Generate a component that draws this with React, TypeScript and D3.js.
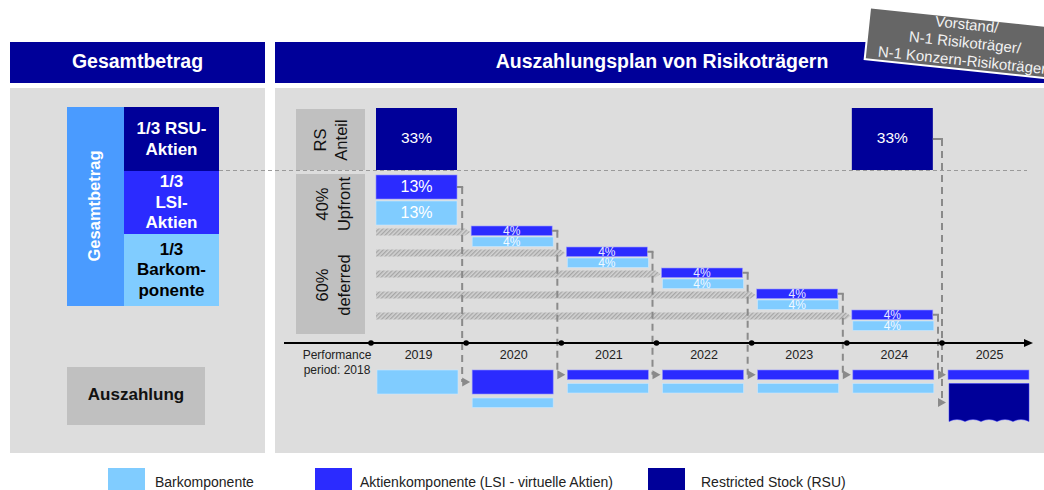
import React from 'react';
import * as d3 from 'd3';

const YEARS = [2019, 2020, 2021, 2022, 2023, 2024, 2025];
const RSU_GRANT_YEARS = [2019, 2024];
const RSU_GRANT_VALUES = [33, 33];
const UPFRONT_YEAR = 2019;
const UPFRONT_LSI = 13;
const UPFRONT_CASH = 13;
const DEFERRED_YEARS = [2020, 2021, 2022, 2023, 2024];
const DEFERRED_LSI = [4, 4, 4, 4, 4];
const DEFERRED_CASH = [4, 4, 4, 4, 4];
const PAYOUT_CASH_YEARS = [2019, 2020, 2021, 2022, 2023, 2024];
const PAYOUT_CASH = [13, 4, 4, 4, 4, 4];
const PAYOUT_LSI_YEARS = [2020, 2021, 2022, 2023, 2024, 2025];
const PAYOUT_LSI = [13, 4, 4, 4, 4, 4];
const PAYOUT_RSU_YEARS = [2025];
const PAYOUT_RSU = [33];
const LEGEND_LABELS = ['Barkomponente', 'Aktienkomponente (LSI - virtuelle Aktien)', 'Restricted Stock (RSU)'];
const SPLIT_LABELS = [['1/3 RSU-', 'Aktien'], ['1/3', 'LSI-', 'Aktien'], ['1/3', 'Barkom-', 'ponente']];
const BANNER_LINES = ['Vorstand/', 'N-1 Risikoträger/', 'N-1 Konzern-Risikoträger'];

const NAVY = '#000099';
const LSI = '#2B2BFF';
const CASH = '#80CCFF';
const GESAMT = '#4A9BFF';
const PANEL = '#DDDDDD';
const LABELBOX = '#C0C0C0';
const DASH = '#8A8A8A';
const FONT = '"Liberation Sans", Arial, sans-serif';

export default function App() {
  const x = d3.scaleLinear().domain([2019, 2025]).range([371, 942]);
  const colW = x(2020) - x(2019);
  const barW = 81;
  const barX = (y: number) => x(y) + 5;
  const h = d3.scaleLinear().domain([0, 4, 13, 33]).range([0, 9.5, 24, 62]);
  const rowY = d3.scalePoint<number>().domain(DEFERRED_YEARS).range([226, 310]);
  const rsuTop = 108;
  const upLsiTop = rsuTop + h(33) + 5;
  const upCashTop = upLsiTop + h(UPFRONT_LSI) + 2;

  // payout stacks
  const payoutTop = 370;
  const stacks: Record<number, { kind: string; v: number; y: number; hh: number }[]> = {};
  YEARS.forEach((yr) => {
    const items: { kind: string; v: number }[] = [];
    const li = PAYOUT_LSI_YEARS.indexOf(yr);
    if (li >= 0) items.push({ kind: 'lsi', v: PAYOUT_LSI[li] });
    const ci = PAYOUT_CASH_YEARS.indexOf(yr);
    if (ci >= 0) items.push({ kind: 'cash', v: PAYOUT_CASH[ci] });
    const ri = PAYOUT_RSU_YEARS.indexOf(yr);
    if (ri >= 0) items.push({ kind: 'rsu', v: PAYOUT_RSU[ri] });
    let y = payoutTop;
    stacks[yr] = items.map((it) => {
      const hh = it.kind === 'rsu' ? 38 : h(it.v);
      const o = { ...it, y, hh };
      y += hh + 4;
      return o;
    });
  });
  const colorOf = (k: string) => (k === 'lsi' ? LSI : k === 'cash' ? CASH : NAVY);

  // connectors
  const connectors: { sx: number; sy: number; target: number; kind: string; dx: number }[] = [];
  connectors.push({ sx: barX(UPFRONT_YEAR) + barW, sy: upLsiTop + h(UPFRONT_LSI) / 2, target: UPFRONT_YEAR + 1, kind: 'lsi', dx: -4 });
  DEFERRED_YEARS.forEach((yr) => {
    connectors.push({ sx: barX(yr) + barW, sy: (rowY(yr) as number) + h(4) / 2, target: yr + 1, kind: 'lsi', dx: -4 });
  });
  connectors.push({ sx: barX(2024) + barW, sy: rsuTop + h(33) / 2, target: 2025, kind: 'rsu', dx: 0 });

  const wavePath = (x0: number, y0: number, w: number, hh: number) => {
    const n = 5;
    const seg = w / n;
    let d = `M${x0},${y0} H${x0 + w} V${y0 + hh}`;
    for (let i = 0; i < n; i++) {
      const xa = x0 + w - i * seg;
      d += ` Q${xa - seg / 2},${y0 + hh - 4} ${xa - seg},${y0 + hh}`;
    }
    d += ' Z';
    return d;
  };

  const bannerRot = 6;

  return (
    <svg width={1044} height={490} style={{ position: 'absolute', left: 0, top: 0, background: '#fff' }} fontFamily={FONT}>
      <defs>
        <pattern id="hatch" width="3" height="3" patternUnits="userSpaceOnUse" patternTransform="rotate(45)">
          <rect width="3" height="3" fill="#D2D2D2" />
          <rect width="1.3" height="3" fill="#A6A6A6" />
        </pattern>
      </defs>
      {/* Headers */}
      <rect x={10} y={42} width={255} height={41} fill={NAVY} />
      <text x={137.5} y={63} fill="#fff" fontWeight="bold" fontSize={19.5} textAnchor="middle" dominantBaseline="middle">Gesamtbetrag</text>
      <rect x={275} y={42} width={769} height={41} fill={NAVY} />
      <text x={662} y={63} fill="#fff" fontWeight="bold" fontSize={19.5} textAnchor="middle" dominantBaseline="middle">Auszahlungsplan von Risikoträgern</text>

      {/* Panels */}
      <rect x={10} y={88} width={255} height={365} fill={PANEL} />
      <rect x={275} y={88} width={769} height={365} fill={PANEL} />

      {/* Left stack */}
      <rect x={67} y={107} width={57} height={199} fill={GESAMT} />
      <text transform="translate(96,206) rotate(-90)" fill="#fff" fontWeight="bold" fontSize={16.5} textAnchor="middle" dominantBaseline="middle">Gesamtbetrag</text>
      {[{ y: 107, hh: 64, c: NAVY, t: '#fff' }, { y: 171, hh: 63, c: LSI, t: '#fff' }, { y: 234, hh: 72, c: CASH, t: '#000' }].map((b, i) => (
        <g key={i}>
          <rect x={124} y={b.y} width={95} height={b.hh} fill={b.c} />
          {SPLIT_LABELS[i].map((ln, j, arr) => (
            <text key={j} x={171.5} y={b.y + b.hh / 2 + (j - (arr.length - 1) / 2) * 20.5 + 1} fill={b.t} fontWeight="bold" fontSize={17} textAnchor="middle" dominantBaseline="middle">{ln}</text>
          ))}
        </g>
      ))}
      <rect x={67} y={367} width={138} height={58} fill={LABELBOX} />
      <text x={136} y={396} fontWeight="bold" fontSize={17} textAnchor="middle" dominantBaseline="middle" fill="#111">Auszahlung</text>

      {/* dotted separator */}
      <line x1={219} x2={1027} y1={170.5} y2={170.5} stroke="#9A9A9A" strokeWidth={1.2} strokeDasharray="4,3" />

      {/* Right label boxes */}
      <rect x={296} y={109} width={69} height={61} fill={LABELBOX} />
      <text transform="translate(331,140) rotate(-90)" fontSize={16.5} textAnchor="middle" fill="#111">
        <tspan x={0} y={-5}>RS</tspan>
        <tspan x={0} y={16}>Anteil</tspan>
      </text>
      <rect x={296} y={174} width={69} height={160} fill={LABELBOX} />
      <text transform="translate(334,204) rotate(-90)" fontSize={16.5} textAnchor="middle" fill="#111">
        <tspan x={0} y={-6}>40%</tspan>
        <tspan x={0} y={16}>Upfront</tspan>
      </text>
      <text transform="translate(334,285) rotate(-90)" fontSize={16.5} textAnchor="middle" fill="#111">
        <tspan x={0} y={-6}>60%</tspan>
        <tspan x={0} y={16}>deferred</tspan>
      </text>

      {/* RSU grant blocks */}
      {RSU_GRANT_YEARS.map((yr, i) => (
        <g key={yr}>
          <rect x={barX(yr)} y={rsuTop} width={barW} height={h(RSU_GRANT_VALUES[i])} fill={NAVY} />
          <text x={barX(yr) + barW / 2} y={rsuTop + h(RSU_GRANT_VALUES[i]) / 2} fill="#fff" fontSize={15.5} textAnchor="middle" dominantBaseline="middle">{RSU_GRANT_VALUES[i]}%</text>
        </g>
      ))}

      {/* Upfront */}
      <rect x={barX(UPFRONT_YEAR)} y={upLsiTop} width={barW} height={h(UPFRONT_LSI)} fill={LSI} stroke="#8f8fff" strokeWidth={0.6} />
      <text x={barX(UPFRONT_YEAR) + barW / 2} y={upLsiTop + h(UPFRONT_LSI) / 2 + 1} fill="#fff" fontSize={16} textAnchor="middle" dominantBaseline="middle">{UPFRONT_LSI}%</text>
      <rect x={barX(UPFRONT_YEAR)} y={upCashTop} width={barW} height={h(UPFRONT_CASH)} fill={CASH} stroke="#c8e8ff" strokeWidth={0.6} />
      <text x={barX(UPFRONT_YEAR) + barW / 2} y={upCashTop + h(UPFRONT_CASH) / 2 + 1} fill="#fff" fontSize={16} textAnchor="middle" dominantBaseline="middle">{UPFRONT_CASH}%</text>

      {/* Hatched arrows + deferred bars */}
      {DEFERRED_YEARS.map((yr, i) => {
        const top = rowY(yr) as number;
        const ay = top + 6;
        const x0 = 376;
        const x1 = barX(yr) - 1;
        const pts = [[x0, ay - 3.5], [x1 - 5, ay - 3.5], [x1, ay], [x1 - 5, ay + 3.5], [x0, ay + 3.5]].map((p) => p.join(',')).join(' ');
        const lh = h(DEFERRED_LSI[i]);
        const ch = h(DEFERRED_CASH[i]);
        return (
          <g key={yr}>
            <polygon points={pts} fill="url(#hatch)" />
            <rect x={barX(yr)} y={top} width={barW} height={lh} fill={LSI} stroke="#9a9aff" strokeWidth={0.6} />
            <rect x={barX(yr) + 1} y={top + lh + 1.5} width={barW} height={ch} fill={CASH} stroke="#c8e8ff" strokeWidth={0.6} />
            <text x={barX(yr) + barW / 2} y={top + lh / 2 + 1} fill="#fff" fontSize={12} textAnchor="middle" dominantBaseline="middle" opacity={0.9}>{DEFERRED_LSI[i]}%</text>
            <text x={barX(yr) + barW / 2} y={top + lh + 1.5 + ch / 2 + 1} fill="#fff" fontSize={12} textAnchor="middle" dominantBaseline="middle" opacity={0.9}>{DEFERRED_CASH[i]}%</text>
          </g>
        );
      })}

      {/* Connectors */}
      {connectors.map((c, i) => {
        const dxp = x(c.target) + c.dx;
        const tgt = stacks[c.target].find((s) => s.kind === c.kind)!;
        const ty = tgt.y + Math.min(tgt.hh, 38) / 2;
        const bl = barX(c.target) + 1;
        return (
          <g key={i}>
            <line x1={c.sx} x2={dxp + 1} y1={c.sy} y2={c.sy} stroke={DASH} strokeWidth={2} />
            <path d={`M${dxp},${c.sy} V${ty} H${bl - 10}`} fill="none" stroke={DASH} strokeWidth={2} strokeDasharray="7,5" />
            <polygon points={`${bl - 10},${ty - 4.5} ${bl - 2},${ty} ${bl - 10},${ty + 4.5}`} fill={DASH} />
          </g>
        );
      })}

      {/* Axis */}
      <line x1={284} x2={1026} y1={343} y2={343} stroke="#000" strokeWidth={2} />
      <polygon points="1024,339 1033,343 1024,347" fill="#000" />
      {YEARS.map((yr) => (
        <g key={yr}>
          <circle cx={x(yr)} cy={343} r={2.8} fill="#000" />
          <text x={x(yr) + colW / 2} y={356} fontSize={12.5} fill="#222" textAnchor="middle" dominantBaseline="middle">{yr}</text>
        </g>
      ))}
      <text x={337} y={356} fontSize={12} fill="#222" textAnchor="middle" dominantBaseline="middle">Performance</text>
      <text x={337} y={371} fontSize={12} fill="#222" textAnchor="middle" dominantBaseline="middle">period: 2018</text>

      {/* Payout blocks */}
      {YEARS.map((yr) => (
        <g key={yr}>
          {stacks[yr].map((s, j) =>
            s.kind === 'rsu' ? (
              <path key={j} d={wavePath(barX(yr) + 2, s.y, barW - 1, s.hh)} fill={NAVY} stroke="#3a3aff" strokeWidth={0.5} />
            ) : (
              <rect key={j} x={barX(yr) + 1} y={s.y} width={barW} height={s.hh} fill={colorOf(s.kind)} stroke={s.kind === 'lsi' ? '#8f8fff' : '#c8e8ff'} strokeWidth={0.6} />
            )
          )}
        </g>
      ))}

      {/* Legend */}
      {LEGEND_LABELS.map((lab, i) => {
        const sx = [108, 315, 648][i];
        const tx = [155, 360, 701][i];
        return (
          <g key={i}>
            <rect x={sx} y={468} width={37} height={22} fill={[CASH, LSI, NAVY][i]} />
            <text x={tx} y={483} fontSize={14} fill="#222" dominantBaseline="middle">{lab}</text>
          </g>
        );
      })}

      {/* Banner */}
      <g transform={`translate(960,42) rotate(${bannerRot})`}>
        <rect x={-93} y={-25} width={220} height={52} fill="#666666" stroke="#fff" strokeWidth={2} />
        {BANNER_LINES.map((ln, i) => (
          <text key={i} x={i === 2 ? 4 : 5} y={(i - 1) * 18 + 1} fontSize={15} fill="#F2F2F2" textAnchor="middle" dominantBaseline="middle">{ln}</text>
        ))}
      </g>
    </svg>
  );
}
